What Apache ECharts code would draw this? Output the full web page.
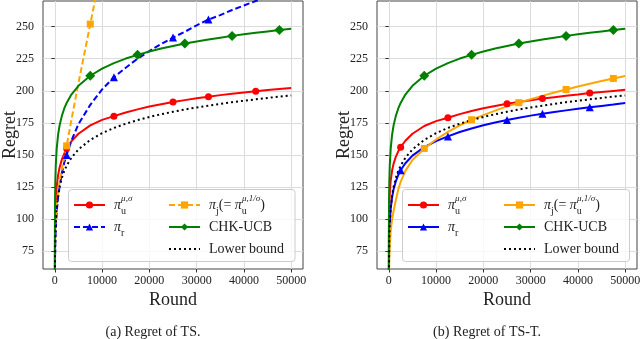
<!DOCTYPE html>
<html><head><meta charset="utf-8">
<script src="https://cdn.jsdelivr.net/npm/echarts@6/dist/echarts.min.js"></script>
<style>html,body{margin:0;padding:0;background:#fff}#c{width:640px;height:339px}</style>
</head><body><div id="c"></div>
<script>
// ---------- data ----------
const rounds = [1, 20, 50, 100, 200, 400, 700, 1000, 1500, 2000, 2500, 3500, 5000, 7500, 10000, 12500, 15000, 17500, 20000, 22500, 25000, 27500, 30000, 32500, 35000, 37500, 40000, 42500, 45000, 47500, 50000];
const xTicks = [0, 10000, 20000, 30000, 40000, 50000];
const yTicks = [75, 100, 125, 150, 175, 200, 225, 250];

// (a) Regret of TS
const tsPiU = [30.2, 77.8, 92.4, 103.4, 114.5, 125.5, 134.4, 140, 146.5, 151, 155, 160.5, 166.5, 173, 177.3, 180.2, 183.1, 185.5, 187.7, 189.5, 191.2, 192.7, 194.1, 195.4, 196.6, 197.7, 198.7, 199.7, 200.6, 201.4, 202.2];
const tsPiR = [30, 55, 68, 80, 93, 106, 117, 125, 136, 144, 150, 161, 174, 189, 201, 210.5, 218, 225, 231, 236.5, 241.5, 246, 251, 255.5, 259, 263, 266.5, 270, 273, 276, 279];
const tsPiJ = [40, 65, 80, 92, 102, 112, 121, 129, 139, 148, 157, 177, 206, 252, 298];
const chkUcb = [39.5, 97.3, 115, 128.4, 141.8, 155.1, 165.9, 172.8, 180.6, 186.2, 190.5, 197, 203.9, 211.7, 217.3, 221.6, 225.1, 228, 230.6, 232.9, 234.9, 236.8, 238.5, 240, 241.4, 242.8, 244, 245.2, 246.3, 247.3, 248.3];
const lowerBound = [0, 53.5, 70.2, 82.9, 95.5, 108.2, 118.4, 124.9, 132.3, 137.5, 141.6, 147.8, 154.3, 161.7, 166.9, 171, 174.3, 177.1, 179.6, 181.7, 183.6, 185.4, 187, 188.4, 189.8, 191.1, 192.2, 193.3, 194.4, 195.4, 196.3];

// (b) Regret of TS-T
const tstPiU = [44, 87, 100, 110, 120, 130, 138, 143, 148.7, 152.8, 156, 161, 166.5, 172.5, 176.3, 179, 181.8, 184.2, 186.3, 188.1, 189.8, 191.2, 192.6, 193.9, 195, 196.1, 197.1, 198.2, 199.1, 199.9, 200.7];
const tstPiR = [10, 58.8, 73.9, 85.2, 96.6, 108, 117.1, 123, 129.6, 134.3, 138, 143.5, 149.4, 156, 160.7, 164.4, 167.8, 170.6, 173.1, 175.3, 177.2, 178.9, 180.6, 182.1, 183.5, 184.7, 185.9, 187.1, 188.2, 189.3, 190.5];
const tstPiJ = [20, 45, 58, 68, 79, 91, 100, 106, 115, 123, 129, 137.5, 146, 155, 162, 168, 173, 177.4, 181, 184.5, 187.8, 190.7, 193.5, 196, 198.6, 201, 203.3, 205.5, 207.6, 209.6, 211.5];

// rounds that carry a marker
const mkPiU = [2500, 12500, 25000, 32500, 42500];
const mkPiRts = [2500, 12500, 25000, 32500];
const mkPiRtst = [2500, 12500, 25000, 32500, 42500];
const mkPiJts = [2500, 7500];
const mkPiJtst = [7500, 17500, 27500, 37500, 47500];
const mkChk = [7500, 17500, 27500, 37500, 47500];

// ---------- chart ----------
const FONT = 'Liberation Serif';
const TXT = '#222';

function pts(vals, marks) {
  return vals.map((v, i) => {
    const x = rounds[i];
    return marks.indexOf(x) >= 0 ? [x, v] : { value: [x, v], symbol: 'none' };
  });
}
function mkLine(id, g, vals, marks, color, symbol, size, dash) {
  return {
    id: id, name: id, type: 'line', xAxisIndex: g, yAxisIndex: g,
    data: pts(vals, marks), symbol: symbol, symbolSize: size,
    showSymbol: true, showAllSymbol: true, clip: true, animation: false,
    color: color, itemStyle: { color: color },
    lineStyle: { color: color, width: 2, type: dash },
    emphasis: { disabled: true }
  };
}
const dashed = [6, 3];
const dotted = [2, 3];

const series = [
  mkLine('a_piU', 0, tsPiU, mkPiU, '#ff0000', 'circle', 7, 'solid'),
  mkLine('a_piR', 0, tsPiR, mkPiRts, '#0000ff', 'triangle', 8, dashed),
  mkLine('a_piJ', 0, tsPiJ, mkPiJts, '#ffa500', 'rect', 7, dashed),
  mkLine('a_chk', 0, chkUcb, mkChk, '#008000', 'diamond', 10, 'solid'),
  mkLine('a_lb', 0, lowerBound, [], '#000000', 'none', 0, dotted),
  mkLine('b_piU', 1, tstPiU, mkPiU, '#ff0000', 'circle', 7, 'solid'),
  mkLine('b_piR', 1, tstPiR, mkPiRtst, '#0000ff', 'triangle', 8, 'solid'),
  mkLine('b_piJ', 1, tstPiJ, mkPiJtst, '#ffa500', 'rect', 7, 'solid'),
  mkLine('b_chk', 1, chkUcb, mkChk, '#008000', 'diamond', 10, 'solid'),
  mkLine('b_lb', 1, lowerBound, [], '#000000', 'none', 0, dotted)
];

const labels = {
  piU: '{g| }{it|π}{sbz|u}{sp|μ,σ}',
  piR: '{g| }{it|π}{sb|r}',
  piJ: '{g| }{it|π}{sb|j}{m|(= }{it|π}{sbz|u}{sp|μ,1/σ}{m|)}',
  chk: '{g| }{m|CHK-UCB}',
  lb: '{g| }{m|Lower bound}'
};
const rich = {
  g: { width: 4, lineHeight: 22 },
  m: { fontFamily: FONT, fontSize: 14, lineHeight: 22, color: TXT },
  it: { fontFamily: FONT, fontSize: 14, fontStyle: 'italic', lineHeight: 22, color: TXT },
  sb: { fontFamily: FONT, fontSize: 10, lineHeight: 14, verticalAlign: 'bottom', color: TXT },
  sbz: { fontFamily: FONT, fontSize: 10, lineHeight: 14, verticalAlign: 'bottom', width: 0.1, color: TXT },
  sp: { fontFamily: FONT, fontSize: 9, fontStyle: 'italic', lineHeight: 12, verticalAlign: 'top', color: TXT }
};
function legendItem(name) {
  if (name.slice(2) === 'lb') {
    return { name: name, itemStyle: { opacity: 0 } };
  }
  return { name: name };
}
function legend(names, left, top) {
  return {
    data: names.map(legendItem), left: left, top: top, orient: 'vertical', itemGap: 0,
    itemWidth: 31, itemHeight: 9, padding: 0, selectedMode: false,
    textStyle: { fontFamily: FONT, fontSize: 14, lineHeight: 22, height: 22, color: TXT, rich: rich },
    formatter: n => labels[n.slice(2)]
  };
}

function xAx(g) {
  return {
    gridIndex: g, type: 'value', min: -2500, max: 52500,
    axisLine: { show: false },
    axisTick: { show: true, customValues: xTicks, length: 3.5, lineStyle: { color: '#333' } },
    axisLabel: { customValues: xTicks, fontFamily: FONT, fontSize: 12, color: TXT, margin: 6, formatter: v => String(v) },
    splitLine: { show: true, lineStyle: { color: '#dcdcdc', width: 1 } },
    name: 'Round', nameLocation: 'middle', nameGap: 22, nameMoveOverlap: false,
    nameTextStyle: { fontFamily: FONT, fontSize: 18, color: TXT }
  };
}
function yAx(g) {
  return {
    gridIndex: g, type: 'value', min: 61, max: 270,
    axisLine: { show: false },
    axisTick: { show: true, customValues: yTicks, length: 3.5, lineStyle: { color: '#333' } },
    axisLabel: { customValues: yTicks, fontFamily: FONT, fontSize: 12, color: TXT, margin: 9 },
    splitLine: { show: true, lineStyle: { color: '#dcdcdc', width: 1 } },
    name: 'Regret', nameLocation: 'middle', nameGap: 24, nameMoveOverlap: false,
    nameTextStyle: { fontFamily: FONT, fontSize: 18, color: TXT }
  };
}

const option = {
  animation: false,
  backgroundColor: '#fff',
  grid: [
    { left: 43, top: 1, width: 260, height: 268, show: true, borderColor: '#444', borderWidth: 1, containLabel: false, outerBoundsMode: 'none' },
    { left: 377, top: 1, width: 260, height: 268, show: true, borderColor: '#444', borderWidth: 1, containLabel: false, outerBoundsMode: 'none' }
  ],
  xAxis: [xAx(0), xAx(1)],
  yAxis: [yAx(0), yAx(1)],
  legend: [
    legend(['a_piU', 'a_piR'], 73, 194),
    legend(['a_piJ', 'a_chk', 'a_lb'], 168, 194),
    legend(['b_piU', 'b_piR'], 407, 194),
    legend(['b_piJ', 'b_chk', 'b_lb'], 503, 194)
  ],
  graphic: [
    { type: 'rect', z: 3, shape: { x: 68.5, y: 189.5, width: 226.5, height: 72, r: 3 }, style: { fill: 'rgba(255,255,255,0.8)', stroke: '#cccccc', lineWidth: 1 } },
    { type: 'rect', z: 3, shape: { x: 402.5, y: 189.5, width: 227, height: 72, r: 3 }, style: { fill: 'rgba(255,255,255,0.8)', stroke: '#cccccc', lineWidth: 1 } },
    { type: 'text', x: 153, y: 332, style: { text: '(a) Regret of TS.', font: '14px "Liberation Serif"', fill: TXT, align: 'center', verticalAlign: 'middle' } },
    { type: 'text', x: 487, y: 332, style: { text: '(b) Regret of TS-T.', font: '14px "Liberation Serif"', fill: TXT, align: 'center', verticalAlign: 'middle' } }
  ],
  series: series
};
const chart = echarts.init(document.getElementById('c'), null, { renderer: 'canvas' });
chart.setOption(option);
</script>
</body></html>
